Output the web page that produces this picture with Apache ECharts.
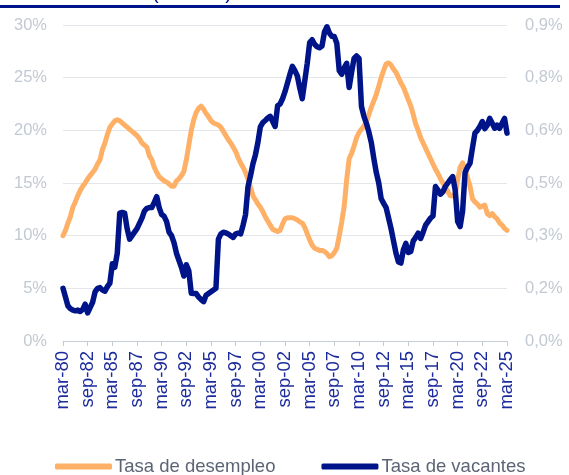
<!DOCTYPE html>
<html>
<head>
<meta charset="utf-8">
<script src="https://cdn.jsdelivr.net/npm/echarts@6/dist/echarts.min.js"></script>
<style>
html,body{margin:0;padding:0;background:#fff;}
#chart{width:569px;height:475px;}
</style>
</head>
<body>
<div id="chart"></div>
<script>
// Quarterly observations, mar-80 .. mar-25
const monthNames = ['mar', 'jun', 'sep', 'dic'];
const categories = [];
for (let y = 1980; y <= 2025; y++) {
  for (let k = 0; k < 4; k++) {
    if (y === 2025 && k > 0) break;
    categories.push(monthNames[k] + '-' + String(y).slice(2));
  }
}

// Tasa de desempleo (%), left axis
const desempleo = [
  10.0, 10.5, 11.2, 11.8, 12.7, 13.2, 13.8, 14.3, 14.7, 15.0,
  15.4, 15.7, 16.0, 16.3, 16.8, 17.2, 18.2, 18.8, 19.6, 20.3,
  20.6, 20.9, 21.0, 20.9, 20.7, 20.5, 20.3, 20.1, 19.9, 19.7,
  19.5, 19.2, 18.8, 18.6, 18.4, 17.6, 17.2, 16.5, 16.0, 15.6,
  15.4, 15.2, 15.1, 14.9, 14.7, 14.7, 15.2, 15.4, 15.7, 16.1,
  17.2, 18.6, 20.0, 21.0, 21.7, 22.1, 22.3, 22.0, 21.6, 21.3,
  20.9, 20.7, 20.6, 20.5, 20.3, 19.9, 19.5, 19.1, 18.8, 18.4,
  18.0, 17.4, 16.9, 16.5, 16.0, 15.4, 14.6, 13.8, 13.4, 13.0,
  12.7, 12.3, 11.8, 11.4, 11.0, 10.6, 10.5, 10.4, 10.5, 11.1,
  11.6, 11.7, 11.7, 11.7, 11.6, 11.5, 11.3, 11.2, 10.8, 10.2,
  9.6, 9.1, 8.8, 8.7, 8.6, 8.6, 8.5, 8.3, 8.0, 8.1,
  8.4, 8.8, 10.0, 11.3, 12.8, 15.3, 17.3, 17.8, 18.5, 19.3,
  19.8, 20.1, 20.4, 20.8, 21.5, 22.2, 22.8, 23.4, 24.2, 25.0,
  25.7, 26.3, 26.4, 26.2, 25.8, 25.5, 25.0, 24.5, 24.1, 23.5,
  22.9, 22.3, 21.5, 20.6, 20.0, 19.3, 18.8, 18.3, 17.8, 17.3,
  16.8, 16.3, 15.9, 15.4, 15.0, 14.6, 14.2, 13.8, 13.8, 14.0,
  15.3, 16.5, 16.9, 16.3, 15.5, 14.7, 13.5, 13.2, 13.0, 12.7,
  12.8, 12.9, 12.1, 11.9, 12.1, 11.8, 11.6, 11.2, 11.0, 10.7,
  10.5
];

// Tasa de vacantes (%), right axis
const vacantes = [
  0.150, 0.125, 0.100, 0.092, 0.088, 0.086, 0.088, 0.084, 0.090, 0.105,
  0.080, 0.095, 0.110, 0.140, 0.150, 0.152, 0.145, 0.142, 0.155, 0.165,
  0.220, 0.210, 0.250, 0.364, 0.366, 0.364, 0.320, 0.290, 0.300, 0.310,
  0.320, 0.335, 0.350, 0.370, 0.378, 0.380, 0.380, 0.395, 0.411, 0.380,
  0.360, 0.355, 0.340, 0.310, 0.300, 0.280, 0.250, 0.230, 0.210, 0.185,
  0.217, 0.200, 0.136, 0.135, 0.135, 0.125, 0.118, 0.112, 0.130, 0.135,
  0.140, 0.145, 0.150, 0.290, 0.305, 0.310, 0.308, 0.305, 0.300, 0.295,
  0.305, 0.307, 0.305, 0.330, 0.360, 0.440, 0.470, 0.505, 0.530, 0.565,
  0.610, 0.622, 0.628, 0.635, 0.640, 0.625, 0.611, 0.670, 0.675, 0.690,
  0.710, 0.735, 0.760, 0.782, 0.770, 0.755, 0.720, 0.690, 0.740, 0.790,
  0.850, 0.858, 0.845, 0.838, 0.835, 0.840, 0.880, 0.895, 0.877, 0.868,
  0.867, 0.848, 0.770, 0.760, 0.778, 0.791, 0.722, 0.765, 0.805, 0.812,
  0.805, 0.668, 0.640, 0.620, 0.595, 0.565, 0.520, 0.480, 0.450, 0.405,
  0.392, 0.380, 0.350, 0.320, 0.285, 0.250, 0.225, 0.222, 0.260, 0.278,
  0.252, 0.255, 0.285, 0.295, 0.307, 0.292, 0.310, 0.330, 0.340, 0.350,
  0.356, 0.440, 0.430, 0.418, 0.425, 0.440, 0.450, 0.460, 0.468, 0.430,
  0.340, 0.326, 0.370, 0.480, 0.495, 0.506, 0.550, 0.592, 0.600, 0.611,
  0.625, 0.605, 0.615, 0.634, 0.620, 0.606, 0.615, 0.606, 0.620, 0.634,
  0.592
];

const leftTickLabels = ['0%', '5%', '10%', '15%', '20%', '25%', '30%'];
const rightTickLabels = ['0,0%', '0,2%', '0,3%', '0,5%', '0,6%', '0,8%', '0,9%'];
const seriesNames = ['Tasa de desempleo', 'Tasa de vacantes'];

const FONT = "'Liberation Sans', Arial, sans-serif";
const chart = echarts.init(document.getElementById('chart'));
chart.setOption({
  animation: false,
  backgroundColor: '#ffffff',
  graphic: [
    { type: 'rect', shape: { x: 0, y: 5, width: 560, height: 3 }, style: { fill: '#001489' } },
    { type: 'text', x: 152, y: 3, style: { text: '(            )', font: '20px ' + FONT, fill: '#001489', verticalAlign: 'bottom' } }
  ],
  grid: { left: 63, right: 62, top: 25, bottom: 134, outerBoundsMode: 'none', containLabel: false },
  legend: {
    left: 50, top: 452, itemWidth: 57, itemHeight: 6, itemGap: 46, icon: 'roundRect',
    textStyle: { fontFamily: FONT, fontSize: 18.5, color: '#5c6475', padding: [0, 0, 0, -2] },
    data: seriesNames
  },
  xAxis: {
    type: 'category', data: categories, boundaryGap: false,
    axisLine: { lineStyle: { color: '#c6ccd4', width: 1 } },
    axisTick: { interval: 9, length: 5, lineStyle: { color: '#c6ccd4' } },
    axisLabel: { interval: 9, rotate: 90, margin: 10, fontFamily: FONT, fontSize: 18.5, color: '#1c2c9c' },
    splitLine: { show: false }
  },
  yAxis: [
    {
      type: 'value', min: 0, max: 30, interval: 5,
      axisLine: { show: false }, axisTick: { show: false },
      axisLabel: { margin: 16, fontFamily: FONT, fontSize: 16.5, color: '#c3c9d2',
        formatter: (v, i) => leftTickLabels[i] },
      splitLine: { lineStyle: { color: '#e3e6ea', width: 1 } }
    },
    {
      type: 'value', min: 0, max: 0.9, interval: 0.15,
      axisLine: { show: false }, axisTick: { show: false },
      axisLabel: { margin: 18, fontFamily: FONT, fontSize: 16.5, color: '#c3c9d2',
        formatter: (v, i) => rightTickLabels[i] },
      splitLine: { show: false }
    }
  ],
  series: [
    { name: seriesNames[0], type: 'line', yAxisIndex: 0, data: desempleo, showSymbol: false,
      color: '#ffb067', lineStyle: { width: 5, color: '#ffb067', cap: 'round', join: 'round' } },
    { name: seriesNames[1], type: 'line', yAxisIndex: 1, data: vacantes, showSymbol: false,
      color: '#001489', lineStyle: { width: 5.5, color: '#001489', cap: 'round', join: 'round' } }
  ]
});
</script>
</body>
</html>
